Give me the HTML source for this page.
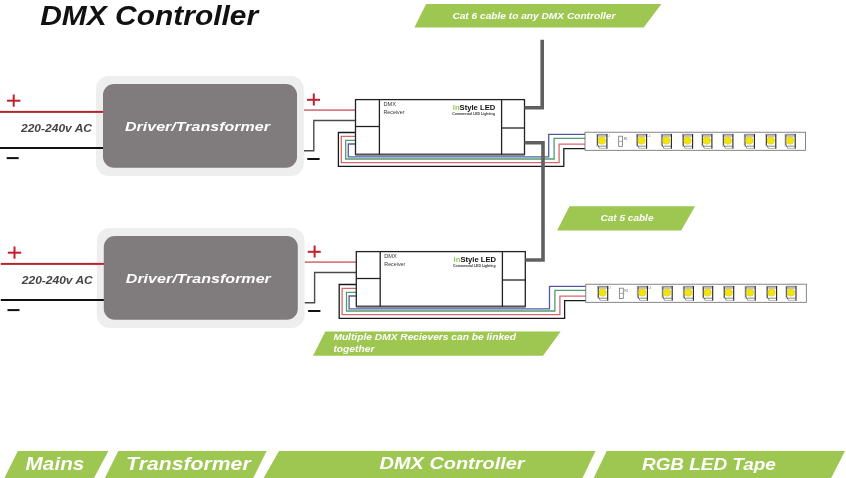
<!DOCTYPE html>
<html><head><meta charset="utf-8"><style>
html,body{margin:0;padding:0;background:#fff;width:846px;height:478px;overflow:hidden}
svg{display:block;will-change:transform}
text{font-family:"Liberation Sans",sans-serif}
</style></head><body>
<svg width="846" height="478" viewBox="0 0 846 478">
<rect width="846" height="478" fill="#fff"/>
<text x="40.2" y="24.8" font-family="Liberation Sans" font-weight="bold" font-style="italic" font-size="28" fill="#111" textLength="218" lengthAdjust="spacingAndGlyphs">DMX Controller</text>
<polygon points="426.1,4.1 661.4,4.1 643.7,27.4 414.4,27.4" fill="#9dc751"/>
<text x="452.4" y="18.6" font-family="Liberation Sans" font-weight="bold" font-style="italic" font-size="9.3" fill="#fff" textLength="163" lengthAdjust="spacingAndGlyphs">Cat 6 cable to any DMX Controller</text>
<g transform="translate(0,0)">
<rect x="7" y="99.7" width="13.4" height="2" fill="#c41e2e"/>
<rect x="12.7" y="94.5" width="2" height="12.2" fill="#c41e2e"/>
<rect x="6.7" y="157.1" width="12" height="2" fill="#111"/>
<text x="21" y="131.5" font-family="Liberation Sans" font-weight="bold" font-style="italic" font-size="10" fill="#444" textLength="71" lengthAdjust="spacingAndGlyphs">220-240v AC</text>
<rect x="96" y="76" width="207.8" height="100" rx="13" fill="#eeeeee"/>
<rect x="0" y="110.9" width="104" height="2" fill="#b8242e"/>
<rect x="0" y="147" width="104" height="2" fill="#111"/>
<rect x="103" y="84" width="194" height="83.8" rx="11" fill="#807b7c"/>
<text x="125" y="130.8" font-family="Liberation Sans" font-weight="bold" font-style="italic" font-size="13.5" fill="#fff" textLength="145" lengthAdjust="spacingAndGlyphs">Driver/Transformer</text>
<rect x="307" y="98.8" width="13" height="2" fill="#c41e2e"/>
<rect x="312.8" y="93.5" width="2" height="12" fill="#c41e2e"/>
<rect x="307.3" y="158" width="12.3" height="2" fill="#111"/>
<rect x="304" y="109.3" width="51.5" height="1.6" fill="#d27078"/>
<polyline points="304,150.8 313.8,150.8 313.8,120.5 355.5,120.5" fill="none" stroke="#4a4a4a" stroke-width="1.4"/>
<polyline points="355.5,132.5 338.4,132.5 338.4,166.3 563.8,166.3 563.8,148.6 585,148.6" fill="none" stroke="#1a1a1a" stroke-width="1.3"/>
<polyline points="355.5,136.4 341.3,136.4 341.3,162.7 559.1,162.7 559.1,144.2 585,144.2" fill="none" stroke="#d9676b" stroke-width="1.3"/>
<polyline points="355.5,140.4 345.7,140.4 345.7,159 554.1,159 554.1,138.3 585,138.3" fill="none" stroke="#4f9d70" stroke-width="1.3"/>
<polyline points="355.5,144 348.3,144 348.3,156.8 548.7,156.8 548.7,134.4 585,134.4" fill="none" stroke="#5159a6" stroke-width="1.3"/>
<rect x="355.5" y="99.6" width="169" height="55" fill="#fff" stroke="#222" stroke-width="1.3"/>
<line x1="355.5" y1="154.6" x2="524.5" y2="154.6" stroke="#555" stroke-width="2"/>
<line x1="379.4" y1="99.6" x2="379.4" y2="154.6" stroke="#222" stroke-width="1.3"/>
<line x1="501.6" y1="99.6" x2="501.6" y2="154.6" stroke="#222" stroke-width="1.3"/>
<line x1="355.5" y1="126.5" x2="379.4" y2="126.5" stroke="#222" stroke-width="1.3"/>
<line x1="501.6" y1="128" x2="524.5" y2="128" stroke="#222" stroke-width="1.3"/>
<text x="383.5" y="106.3" font-family="Liberation Sans" font-size="5.6" fill="#333">DMX</text>
<text x="383.5" y="113.5" font-family="Liberation Sans" font-size="5.6" fill="#333" textLength="21" lengthAdjust="spacingAndGlyphs">Receiver</text>
<text x="452.8" y="110.2" font-family="Liberation Sans" font-weight="bold" font-size="7.4" fill="#111" textLength="42.5" lengthAdjust="spacingAndGlyphs"><tspan fill="#94c95c">In</tspan>Style LED</text>
<text x="452.3" y="115.2" font-family="Liberation Sans" font-weight="bold" font-size="2.8" fill="#333" textLength="42.5" lengthAdjust="spacingAndGlyphs">Commercial LED Lighting</text>
<rect x="585" y="132.2" width="220.5" height="18.1" fill="#fff" stroke="#666" stroke-width="0.8"/>
<g transform="translate(596.5,134)">
<rect x="0" y="0" width="10.8" height="14.8" fill="#fff"/>
<rect x="0.5" y="0.2" width="9.6" height="2.6" fill="#b8b8bc"/>
<path d="M0,0.3 H10.8" stroke="#666" stroke-width="0.6"/>
<path d="M0.3,0 V12.5" stroke="#999" stroke-width="0.6"/>
<path d="M1.1,1 V11 L2.6,13.6" fill="none" stroke="#333" stroke-width="0.9"/>
<path d="M10.4,0 V14.8" stroke="#222" stroke-width="1.1"/>
<circle cx="5.3" cy="6.6" r="3.75" fill="#f1e314" stroke="#cfc000" stroke-width="0.4"/>
<path d="M2.5,12.2 H10" stroke="#555" stroke-width="0.7"/>
<path d="M2.4,14.4 H10" stroke="#999" stroke-width="0.7"/>
</g>
<g transform="translate(636.2,134)">
<rect x="0" y="0" width="10.8" height="14.8" fill="#fff"/>
<rect x="0.5" y="0.2" width="9.6" height="2.6" fill="#b8b8bc"/>
<path d="M0,0.3 H10.8" stroke="#666" stroke-width="0.6"/>
<path d="M0.3,0 V12.5" stroke="#999" stroke-width="0.6"/>
<path d="M1.1,1 V11 L2.6,13.6" fill="none" stroke="#333" stroke-width="0.9"/>
<path d="M10.4,0 V14.8" stroke="#222" stroke-width="1.1"/>
<circle cx="5.3" cy="6.6" r="3.75" fill="#f1e314" stroke="#cfc000" stroke-width="0.4"/>
<path d="M2.5,12.2 H10" stroke="#555" stroke-width="0.7"/>
<path d="M2.4,14.4 H10" stroke="#999" stroke-width="0.7"/>
</g>
<g transform="translate(661,134)">
<rect x="0" y="0" width="10.8" height="14.8" fill="#fff"/>
<rect x="0.5" y="0.2" width="9.6" height="2.6" fill="#b8b8bc"/>
<path d="M0,0.3 H10.8" stroke="#666" stroke-width="0.6"/>
<path d="M0.3,0 V12.5" stroke="#999" stroke-width="0.6"/>
<path d="M1.1,1 V11 L2.6,13.6" fill="none" stroke="#333" stroke-width="0.9"/>
<path d="M10.4,0 V14.8" stroke="#222" stroke-width="1.1"/>
<circle cx="5.3" cy="6.6" r="3.75" fill="#f1e314" stroke="#cfc000" stroke-width="0.4"/>
<path d="M2.5,12.2 H10" stroke="#555" stroke-width="0.7"/>
<path d="M2.4,14.4 H10" stroke="#999" stroke-width="0.7"/>
</g>
<g transform="translate(682.2,134)">
<rect x="0" y="0" width="10.8" height="14.8" fill="#fff"/>
<rect x="0.5" y="0.2" width="9.6" height="2.6" fill="#b8b8bc"/>
<path d="M0,0.3 H10.8" stroke="#666" stroke-width="0.6"/>
<path d="M0.3,0 V12.5" stroke="#999" stroke-width="0.6"/>
<path d="M1.1,1 V11 L2.6,13.6" fill="none" stroke="#333" stroke-width="0.9"/>
<path d="M10.4,0 V14.8" stroke="#222" stroke-width="1.1"/>
<circle cx="5.3" cy="6.6" r="3.75" fill="#f1e314" stroke="#cfc000" stroke-width="0.4"/>
<path d="M2.5,12.2 H10" stroke="#555" stroke-width="0.7"/>
<path d="M2.4,14.4 H10" stroke="#999" stroke-width="0.7"/>
</g>
<g transform="translate(701.5,134)">
<rect x="0" y="0" width="10.8" height="14.8" fill="#fff"/>
<rect x="0.5" y="0.2" width="9.6" height="2.6" fill="#b8b8bc"/>
<path d="M0,0.3 H10.8" stroke="#666" stroke-width="0.6"/>
<path d="M0.3,0 V12.5" stroke="#999" stroke-width="0.6"/>
<path d="M1.1,1 V11 L2.6,13.6" fill="none" stroke="#333" stroke-width="0.9"/>
<path d="M10.4,0 V14.8" stroke="#222" stroke-width="1.1"/>
<circle cx="5.3" cy="6.6" r="3.75" fill="#f1e314" stroke="#cfc000" stroke-width="0.4"/>
<path d="M2.5,12.2 H10" stroke="#555" stroke-width="0.7"/>
<path d="M2.4,14.4 H10" stroke="#999" stroke-width="0.7"/>
</g>
<g transform="translate(722.5,134)">
<rect x="0" y="0" width="10.8" height="14.8" fill="#fff"/>
<rect x="0.5" y="0.2" width="9.6" height="2.6" fill="#b8b8bc"/>
<path d="M0,0.3 H10.8" stroke="#666" stroke-width="0.6"/>
<path d="M0.3,0 V12.5" stroke="#999" stroke-width="0.6"/>
<path d="M1.1,1 V11 L2.6,13.6" fill="none" stroke="#333" stroke-width="0.9"/>
<path d="M10.4,0 V14.8" stroke="#222" stroke-width="1.1"/>
<circle cx="5.3" cy="6.6" r="3.75" fill="#f1e314" stroke="#cfc000" stroke-width="0.4"/>
<path d="M2.5,12.2 H10" stroke="#555" stroke-width="0.7"/>
<path d="M2.4,14.4 H10" stroke="#999" stroke-width="0.7"/>
</g>
<g transform="translate(744,134)">
<rect x="0" y="0" width="10.8" height="14.8" fill="#fff"/>
<rect x="0.5" y="0.2" width="9.6" height="2.6" fill="#b8b8bc"/>
<path d="M0,0.3 H10.8" stroke="#666" stroke-width="0.6"/>
<path d="M0.3,0 V12.5" stroke="#999" stroke-width="0.6"/>
<path d="M1.1,1 V11 L2.6,13.6" fill="none" stroke="#333" stroke-width="0.9"/>
<path d="M10.4,0 V14.8" stroke="#222" stroke-width="1.1"/>
<circle cx="5.3" cy="6.6" r="3.75" fill="#f1e314" stroke="#cfc000" stroke-width="0.4"/>
<path d="M2.5,12.2 H10" stroke="#555" stroke-width="0.7"/>
<path d="M2.4,14.4 H10" stroke="#999" stroke-width="0.7"/>
</g>
<g transform="translate(765.4,134)">
<rect x="0" y="0" width="10.8" height="14.8" fill="#fff"/>
<rect x="0.5" y="0.2" width="9.6" height="2.6" fill="#b8b8bc"/>
<path d="M0,0.3 H10.8" stroke="#666" stroke-width="0.6"/>
<path d="M0.3,0 V12.5" stroke="#999" stroke-width="0.6"/>
<path d="M1.1,1 V11 L2.6,13.6" fill="none" stroke="#333" stroke-width="0.9"/>
<path d="M10.4,0 V14.8" stroke="#222" stroke-width="1.1"/>
<circle cx="5.3" cy="6.6" r="3.75" fill="#f1e314" stroke="#cfc000" stroke-width="0.4"/>
<path d="M2.5,12.2 H10" stroke="#555" stroke-width="0.7"/>
<path d="M2.4,14.4 H10" stroke="#999" stroke-width="0.7"/>
</g>
<g transform="translate(784.8,134)">
<rect x="0" y="0" width="10.8" height="14.8" fill="#fff"/>
<rect x="0.5" y="0.2" width="9.6" height="2.6" fill="#b8b8bc"/>
<path d="M0,0.3 H10.8" stroke="#666" stroke-width="0.6"/>
<path d="M0.3,0 V12.5" stroke="#999" stroke-width="0.6"/>
<path d="M1.1,1 V11 L2.6,13.6" fill="none" stroke="#333" stroke-width="0.9"/>
<path d="M10.4,0 V14.8" stroke="#222" stroke-width="1.1"/>
<circle cx="5.3" cy="6.6" r="3.75" fill="#f1e314" stroke="#cfc000" stroke-width="0.4"/>
<path d="M2.5,12.2 H10" stroke="#555" stroke-width="0.7"/>
<path d="M2.4,14.4 H10" stroke="#999" stroke-width="0.7"/>
</g>
<text x="607.5" y="137" font-family="Liberation Sans" font-size="2.6" fill="#777">LI</text>
<text x="647.5" y="137" font-family="Liberation Sans" font-size="2.6" fill="#777">L4</text>
<text x="623.8" y="139.6" font-family="Liberation Sans" font-size="3" fill="#666">R1</text>
<rect x="618.7" y="136.2" width="3.8" height="10.4" fill="none" stroke="#777" stroke-width="0.8"/>
<line x1="618.7" y1="141.4" x2="622.5" y2="141.4" stroke="#777" stroke-width="0.6"/>
</g>
<g transform="translate(0.8,152)">
<rect x="7" y="99.7" width="13.4" height="2" fill="#c41e2e"/>
<rect x="12.7" y="94.5" width="2" height="12.2" fill="#c41e2e"/>
<rect x="6.7" y="157.1" width="12" height="2" fill="#111"/>
<text x="21" y="131.5" font-family="Liberation Sans" font-weight="bold" font-style="italic" font-size="10" fill="#444" textLength="71" lengthAdjust="spacingAndGlyphs">220-240v AC</text>
<rect x="96" y="76" width="207.8" height="100" rx="13" fill="#eeeeee"/>
<rect x="0" y="110.9" width="104" height="2" fill="#b8242e"/>
<rect x="0" y="147" width="104" height="2" fill="#111"/>
<rect x="103" y="84" width="194" height="83.8" rx="11" fill="#807b7c"/>
<text x="125" y="130.8" font-family="Liberation Sans" font-weight="bold" font-style="italic" font-size="13.5" fill="#fff" textLength="145" lengthAdjust="spacingAndGlyphs">Driver/Transformer</text>
<rect x="307" y="98.8" width="13" height="2" fill="#c41e2e"/>
<rect x="312.8" y="93.5" width="2" height="12" fill="#c41e2e"/>
<rect x="307.3" y="158" width="12.3" height="2" fill="#111"/>
<rect x="304" y="109.3" width="51.5" height="1.6" fill="#d27078"/>
<polyline points="304,150.8 313.8,150.8 313.8,120.5 355.5,120.5" fill="none" stroke="#4a4a4a" stroke-width="1.4"/>
<polyline points="355.5,132.5 338.4,132.5 338.4,166.3 563.8,166.3 563.8,148.6 585,148.6" fill="none" stroke="#1a1a1a" stroke-width="1.3"/>
<polyline points="355.5,136.4 341.3,136.4 341.3,162.7 559.1,162.7 559.1,144.2 585,144.2" fill="none" stroke="#d9676b" stroke-width="1.3"/>
<polyline points="355.5,140.4 345.7,140.4 345.7,159 554.1,159 554.1,138.3 585,138.3" fill="none" stroke="#4f9d70" stroke-width="1.3"/>
<polyline points="355.5,144 348.3,144 348.3,156.8 548.7,156.8 548.7,134.4 585,134.4" fill="none" stroke="#5159a6" stroke-width="1.3"/>
<rect x="355.5" y="99.6" width="169" height="55" fill="#fff" stroke="#222" stroke-width="1.3"/>
<line x1="355.5" y1="154.6" x2="524.5" y2="154.6" stroke="#555" stroke-width="2"/>
<line x1="379.4" y1="99.6" x2="379.4" y2="154.6" stroke="#222" stroke-width="1.3"/>
<line x1="501.6" y1="99.6" x2="501.6" y2="154.6" stroke="#222" stroke-width="1.3"/>
<line x1="355.5" y1="126.5" x2="379.4" y2="126.5" stroke="#222" stroke-width="1.3"/>
<line x1="501.6" y1="128" x2="524.5" y2="128" stroke="#222" stroke-width="1.3"/>
<text x="383.5" y="106.3" font-family="Liberation Sans" font-size="5.6" fill="#333">DMX</text>
<text x="383.5" y="113.5" font-family="Liberation Sans" font-size="5.6" fill="#333" textLength="21" lengthAdjust="spacingAndGlyphs">Receiver</text>
<text x="452.8" y="110.2" font-family="Liberation Sans" font-weight="bold" font-size="7.4" fill="#111" textLength="42.5" lengthAdjust="spacingAndGlyphs"><tspan fill="#94c95c">In</tspan>Style LED</text>
<text x="452.3" y="115.2" font-family="Liberation Sans" font-weight="bold" font-size="2.8" fill="#333" textLength="42.5" lengthAdjust="spacingAndGlyphs">Commercial LED Lighting</text>
<rect x="585" y="132.2" width="220.5" height="18.1" fill="#fff" stroke="#666" stroke-width="0.8"/>
<g transform="translate(596.5,134)">
<rect x="0" y="0" width="10.8" height="14.8" fill="#fff"/>
<rect x="0.5" y="0.2" width="9.6" height="2.6" fill="#b8b8bc"/>
<path d="M0,0.3 H10.8" stroke="#666" stroke-width="0.6"/>
<path d="M0.3,0 V12.5" stroke="#999" stroke-width="0.6"/>
<path d="M1.1,1 V11 L2.6,13.6" fill="none" stroke="#333" stroke-width="0.9"/>
<path d="M10.4,0 V14.8" stroke="#222" stroke-width="1.1"/>
<circle cx="5.3" cy="6.6" r="3.75" fill="#f1e314" stroke="#cfc000" stroke-width="0.4"/>
<path d="M2.5,12.2 H10" stroke="#555" stroke-width="0.7"/>
<path d="M2.4,14.4 H10" stroke="#999" stroke-width="0.7"/>
</g>
<g transform="translate(636.2,134)">
<rect x="0" y="0" width="10.8" height="14.8" fill="#fff"/>
<rect x="0.5" y="0.2" width="9.6" height="2.6" fill="#b8b8bc"/>
<path d="M0,0.3 H10.8" stroke="#666" stroke-width="0.6"/>
<path d="M0.3,0 V12.5" stroke="#999" stroke-width="0.6"/>
<path d="M1.1,1 V11 L2.6,13.6" fill="none" stroke="#333" stroke-width="0.9"/>
<path d="M10.4,0 V14.8" stroke="#222" stroke-width="1.1"/>
<circle cx="5.3" cy="6.6" r="3.75" fill="#f1e314" stroke="#cfc000" stroke-width="0.4"/>
<path d="M2.5,12.2 H10" stroke="#555" stroke-width="0.7"/>
<path d="M2.4,14.4 H10" stroke="#999" stroke-width="0.7"/>
</g>
<g transform="translate(661,134)">
<rect x="0" y="0" width="10.8" height="14.8" fill="#fff"/>
<rect x="0.5" y="0.2" width="9.6" height="2.6" fill="#b8b8bc"/>
<path d="M0,0.3 H10.8" stroke="#666" stroke-width="0.6"/>
<path d="M0.3,0 V12.5" stroke="#999" stroke-width="0.6"/>
<path d="M1.1,1 V11 L2.6,13.6" fill="none" stroke="#333" stroke-width="0.9"/>
<path d="M10.4,0 V14.8" stroke="#222" stroke-width="1.1"/>
<circle cx="5.3" cy="6.6" r="3.75" fill="#f1e314" stroke="#cfc000" stroke-width="0.4"/>
<path d="M2.5,12.2 H10" stroke="#555" stroke-width="0.7"/>
<path d="M2.4,14.4 H10" stroke="#999" stroke-width="0.7"/>
</g>
<g transform="translate(682.2,134)">
<rect x="0" y="0" width="10.8" height="14.8" fill="#fff"/>
<rect x="0.5" y="0.2" width="9.6" height="2.6" fill="#b8b8bc"/>
<path d="M0,0.3 H10.8" stroke="#666" stroke-width="0.6"/>
<path d="M0.3,0 V12.5" stroke="#999" stroke-width="0.6"/>
<path d="M1.1,1 V11 L2.6,13.6" fill="none" stroke="#333" stroke-width="0.9"/>
<path d="M10.4,0 V14.8" stroke="#222" stroke-width="1.1"/>
<circle cx="5.3" cy="6.6" r="3.75" fill="#f1e314" stroke="#cfc000" stroke-width="0.4"/>
<path d="M2.5,12.2 H10" stroke="#555" stroke-width="0.7"/>
<path d="M2.4,14.4 H10" stroke="#999" stroke-width="0.7"/>
</g>
<g transform="translate(701.5,134)">
<rect x="0" y="0" width="10.8" height="14.8" fill="#fff"/>
<rect x="0.5" y="0.2" width="9.6" height="2.6" fill="#b8b8bc"/>
<path d="M0,0.3 H10.8" stroke="#666" stroke-width="0.6"/>
<path d="M0.3,0 V12.5" stroke="#999" stroke-width="0.6"/>
<path d="M1.1,1 V11 L2.6,13.6" fill="none" stroke="#333" stroke-width="0.9"/>
<path d="M10.4,0 V14.8" stroke="#222" stroke-width="1.1"/>
<circle cx="5.3" cy="6.6" r="3.75" fill="#f1e314" stroke="#cfc000" stroke-width="0.4"/>
<path d="M2.5,12.2 H10" stroke="#555" stroke-width="0.7"/>
<path d="M2.4,14.4 H10" stroke="#999" stroke-width="0.7"/>
</g>
<g transform="translate(722.5,134)">
<rect x="0" y="0" width="10.8" height="14.8" fill="#fff"/>
<rect x="0.5" y="0.2" width="9.6" height="2.6" fill="#b8b8bc"/>
<path d="M0,0.3 H10.8" stroke="#666" stroke-width="0.6"/>
<path d="M0.3,0 V12.5" stroke="#999" stroke-width="0.6"/>
<path d="M1.1,1 V11 L2.6,13.6" fill="none" stroke="#333" stroke-width="0.9"/>
<path d="M10.4,0 V14.8" stroke="#222" stroke-width="1.1"/>
<circle cx="5.3" cy="6.6" r="3.75" fill="#f1e314" stroke="#cfc000" stroke-width="0.4"/>
<path d="M2.5,12.2 H10" stroke="#555" stroke-width="0.7"/>
<path d="M2.4,14.4 H10" stroke="#999" stroke-width="0.7"/>
</g>
<g transform="translate(744,134)">
<rect x="0" y="0" width="10.8" height="14.8" fill="#fff"/>
<rect x="0.5" y="0.2" width="9.6" height="2.6" fill="#b8b8bc"/>
<path d="M0,0.3 H10.8" stroke="#666" stroke-width="0.6"/>
<path d="M0.3,0 V12.5" stroke="#999" stroke-width="0.6"/>
<path d="M1.1,1 V11 L2.6,13.6" fill="none" stroke="#333" stroke-width="0.9"/>
<path d="M10.4,0 V14.8" stroke="#222" stroke-width="1.1"/>
<circle cx="5.3" cy="6.6" r="3.75" fill="#f1e314" stroke="#cfc000" stroke-width="0.4"/>
<path d="M2.5,12.2 H10" stroke="#555" stroke-width="0.7"/>
<path d="M2.4,14.4 H10" stroke="#999" stroke-width="0.7"/>
</g>
<g transform="translate(765.4,134)">
<rect x="0" y="0" width="10.8" height="14.8" fill="#fff"/>
<rect x="0.5" y="0.2" width="9.6" height="2.6" fill="#b8b8bc"/>
<path d="M0,0.3 H10.8" stroke="#666" stroke-width="0.6"/>
<path d="M0.3,0 V12.5" stroke="#999" stroke-width="0.6"/>
<path d="M1.1,1 V11 L2.6,13.6" fill="none" stroke="#333" stroke-width="0.9"/>
<path d="M10.4,0 V14.8" stroke="#222" stroke-width="1.1"/>
<circle cx="5.3" cy="6.6" r="3.75" fill="#f1e314" stroke="#cfc000" stroke-width="0.4"/>
<path d="M2.5,12.2 H10" stroke="#555" stroke-width="0.7"/>
<path d="M2.4,14.4 H10" stroke="#999" stroke-width="0.7"/>
</g>
<g transform="translate(784.8,134)">
<rect x="0" y="0" width="10.8" height="14.8" fill="#fff"/>
<rect x="0.5" y="0.2" width="9.6" height="2.6" fill="#b8b8bc"/>
<path d="M0,0.3 H10.8" stroke="#666" stroke-width="0.6"/>
<path d="M0.3,0 V12.5" stroke="#999" stroke-width="0.6"/>
<path d="M1.1,1 V11 L2.6,13.6" fill="none" stroke="#333" stroke-width="0.9"/>
<path d="M10.4,0 V14.8" stroke="#222" stroke-width="1.1"/>
<circle cx="5.3" cy="6.6" r="3.75" fill="#f1e314" stroke="#cfc000" stroke-width="0.4"/>
<path d="M2.5,12.2 H10" stroke="#555" stroke-width="0.7"/>
<path d="M2.4,14.4 H10" stroke="#999" stroke-width="0.7"/>
</g>
<text x="607.5" y="137" font-family="Liberation Sans" font-size="2.6" fill="#777">LI</text>
<text x="647.5" y="137" font-family="Liberation Sans" font-size="2.6" fill="#777">L4</text>
<text x="623.8" y="139.6" font-family="Liberation Sans" font-size="3" fill="#666">R1</text>
<rect x="618.7" y="136.2" width="3.8" height="10.4" fill="none" stroke="#777" stroke-width="0.8"/>
<line x1="618.7" y1="141.4" x2="622.5" y2="141.4" stroke="#777" stroke-width="0.6"/>
</g>
<polyline points="524.5,107.7 542.2,107.7 542.2,39.8" fill="none" stroke="#606060" stroke-width="3.6"/>
<polyline points="524.5,142.8 543,142.8 543,260 525.4,260" fill="none" stroke="#606060" stroke-width="3.6"/>
<polygon points="569.5,206.2 695,206.2 681.2,230.5 557.1,230.5" fill="#9dc751"/>
<text x="600.5" y="220.9" font-family="Liberation Sans" font-weight="bold" font-style="italic" font-size="9" fill="#fff" textLength="53" lengthAdjust="spacingAndGlyphs">Cat 5 cable</text>
<polygon points="325.3,331.6 560.7,331.6 543,355.7 313,355.7" fill="#9dc751"/>
<text x="333.4" y="340.1" font-family="Liberation Sans" font-weight="bold" font-style="italic" font-size="9" fill="#fff" textLength="182.6" lengthAdjust="spacingAndGlyphs">Multiple DMX Recievers can be linked</text>
<text x="333.4" y="351.5" font-family="Liberation Sans" font-weight="bold" font-style="italic" font-size="9" fill="#fff" textLength="41" lengthAdjust="spacingAndGlyphs">together</text>
<polygon points="17.9,451.0 108.4,451.0 94.0,478 4.4,478" fill="#9dc751"/>
<polygon points="118.3,451.0 266.6,451.0 253.2,478 104.9,478" fill="#9dc751"/>
<polygon points="279,451.0 595.5,451.0 582.5,478 263.6,478" fill="#9dc751"/>
<polygon points="606.7,451.0 845,451.0 831.2,478 593.7,478" fill="#9dc751"/>
<text x="25.6" y="469.5" font-family="Liberation Sans" font-weight="bold" font-style="italic" font-size="18.6" fill="#fff" textLength="58.8" lengthAdjust="spacingAndGlyphs">Mains</text>
<text x="126.1" y="470.3" font-family="Liberation Sans" font-weight="bold" font-style="italic" font-size="18" fill="#fff" textLength="124.6" lengthAdjust="spacingAndGlyphs">Transformer</text>
<text x="379.6" y="468.7" font-family="Liberation Sans" font-weight="bold" font-style="italic" font-size="17" fill="#fff" textLength="145" lengthAdjust="spacingAndGlyphs">DMX Controller</text>
<text x="642" y="470.1" font-family="Liberation Sans" font-weight="bold" font-style="italic" font-size="17" fill="#fff" textLength="133.7" lengthAdjust="spacingAndGlyphs">RGB LED Tape</text>
</svg>
</body></html>
